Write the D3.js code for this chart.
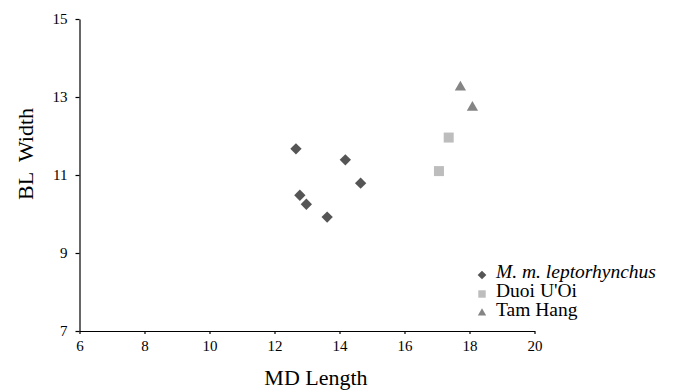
<!DOCTYPE html>
<html>
<head>
<meta charset="utf-8">
<script src="https://cdn.jsdelivr.net/npm/d3@7"></script>
<style>
body { margin: 0; background: #fff; }
text { font-family: "Liberation Serif", "Times New Roman", serif; fill: #000; }
</style>
</head>
<body>
<div id="chart"></div>
<script>
// values
var lepX = [12.66, 14.18, 12.78, 12.98, 13.62, 14.65];
var lepY = [11.67, 11.39, 10.48, 10.25, 9.92, 10.79];
var duoiX = [17.36, 17.06];
var duoiY = [11.96, 11.10];
var tamX = [17.72, 18.09];
var tamY = [13.25, 12.73];

var xTicks = [6, 8, 10, 12, 14, 16, 18, 20];
var yTicks = [7, 9, 11, 13, 15];

var seriesNames = ["M. m. leptorhynchus", "Duoi U'Oi", "Tam Hang"];

var width = 685, height = 392;

var svg = d3.select("#chart").append("svg")
    .attr("width", width)
    .attr("height", height);

var x = d3.scaleLinear().domain([6, 20]).range([79.5, 534.5]);
var y = d3.scaleLinear().domain([7, 15]).range([331, 19]);

var xAxis = svg.append("g")
    .attr("transform", "translate(0," + y(7) + ")")
    .call(d3.axisBottom(x).tickValues(xTicks).tickSize(3).tickSizeOuter(0).tickPadding(6));

var yAxis = svg.append("g")
    .attr("transform", "translate(" + x(6) + ",0)")
    .call(d3.axisLeft(y).tickValues(yTicks).tickSize(4).tickSizeOuter(0).tickPadding(8));

[xAxis, yAxis].forEach(function(ax){
    ax.attr("font-family", "Liberation Serif, serif").attr("font-size", 15);
    ax.selectAll("text")
        .attr("font-family", "Liberation Serif, serif")
        .attr("font-size", 15)
        .attr("fill", "#000");
    ax.selectAll(".domain, .tick line").attr("stroke", "#000").attr("stroke-width", 1.2);
});

svg.append("text")
    .attr("x", 316)
    .attr("y", 385)
    .attr("text-anchor", "middle")
    .style("font-size", "22px")
    .text("MD Length");

svg.append("text")
    .attr("transform", "translate(33,154) rotate(-90)")
    .attr("text-anchor", "middle")
    .style("font-size", "22px")
    .style("white-space", "pre")
    .text("BL  Width");

var colors = ["#555555", "#bdbdbd", "#858585"];
var shapes = [d3.symbolSquare, d3.symbolSquare, d3.symbolTriangle];
var rotate = [45, 0, 0];

function draw(xs, ys, i, size) {
    var sym = d3.symbol().type(shapes[i]).size(size);
    svg.append("g").selectAll("path")
        .data(xs.map(function(d, j){ return [d, ys[j]]; }))
        .enter().append("path")
        .attr("d", sym)
        .attr("transform", function(d){ return "translate(" + x(d[0]) + "," + y(d[1]) + ") rotate(" + rotate[i] + ")"; })
        .attr("fill", colors[i]);
}

draw(lepX, lepY, 0, 64);
draw(duoiX, duoiY, 1, 100);
draw(tamX, tamY, 2, 55);

// legend
var legend = svg.append("g");
seriesNames.forEach(function(name, i){
    var ly = 275 + i * 19;
    legend.append("path")
        .attr("d", d3.symbol().type(shapes[i]).size([38, 55, 30][i]))
        .attr("transform", "translate(482," + ly + ") rotate(" + rotate[i] + ")")
        .attr("fill", colors[i]);
    legend.append("text")
        .attr("x", 496)
        .attr("y", ly + 2.5)
        .style("font-size", "19.5px")
        .style("font-style", i === 0 ? "italic" : "normal")
        .text(name);
});
</script>
</body>
</html>
